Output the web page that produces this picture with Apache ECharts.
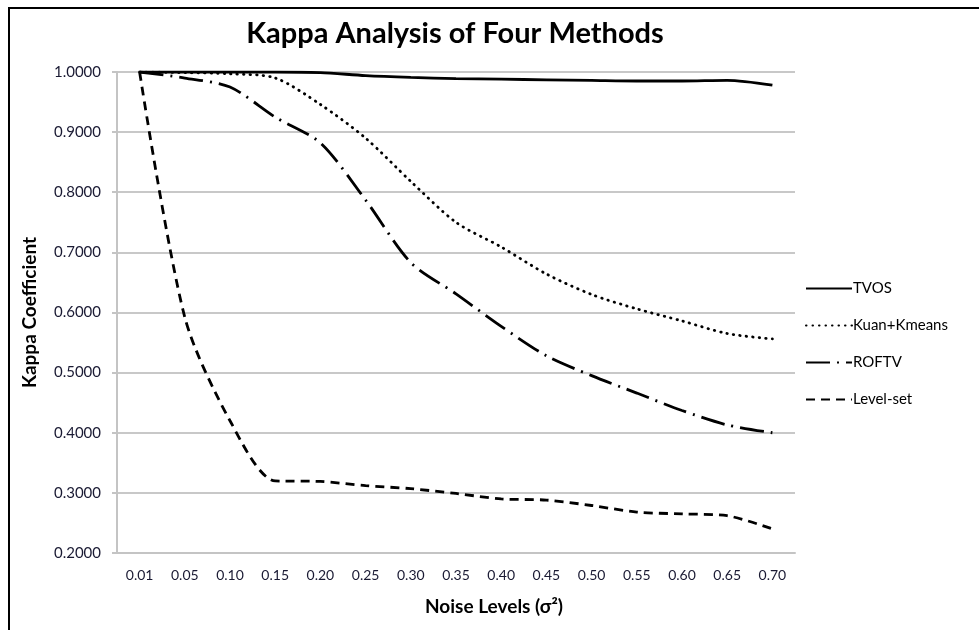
<!DOCTYPE html>
<html>
<head>
<meta charset="utf-8">
<script src="https://cdn.jsdelivr.net/npm/echarts@6/dist/echarts.min.js"></script>
<style>html,body{margin:0;padding:0;background:#fff}#c{width:979px;height:630px}</style>
</head>
<body>
<div id="c"></div>
<script>
const categories = ['0.01','0.05','0.10','0.15','0.20','0.25','0.30','0.35','0.40','0.45','0.50','0.55','0.60','0.65','0.70'];
const tvos = [1.0, 1.0, 1.0, 1.0, 0.999, 0.994, 0.991, 0.989, 0.988, 0.987, 0.986, 0.985, 0.985, 0.986, 0.978];
const kuanKmeans = [1.0, 0.999, 0.997, 0.99, 0.946, 0.89, 0.818, 0.75, 0.709, 0.664, 0.63, 0.606, 0.586, 0.565, 0.556];
const roftv = [1.0, 0.99, 0.975, 0.925, 0.882, 0.787, 0.683, 0.631, 0.577, 0.528, 0.495, 0.466, 0.437, 0.413, 0.40];
const levelSet = [1.0, 0.592, 0.42, 0.32, 0.319, 0.312, 0.307, 0.299, 0.29, 0.288, 0.279, 0.268, 0.265, 0.262, 0.24];
const yTicks = {min: 0.2, max: 1.0, interval: 0.1};

const chart = echarts.init(document.getElementById('c'));
const font = 'Lato, "Open Sans", sans-serif';
function mk(name, data, type, cap) {
  return {
    name, type: 'line', data, smooth: 0.28, symbol: 'none', color: '#000',
    itemStyle: {color: '#000'},
    lineStyle: {color: '#000', width: 2.8, type, cap: cap || 'butt'}
  };
}
chart.setOption({
  animation: false,
  graphic: [{type: 'rect', shape: {x: 9, y: 8, width: 990, height: 640}, style: {fill: 'none', stroke: '#000', lineWidth: 2}}],
  title: {text: 'Kappa Analysis of Four Methods', left: 450, top: 14, textAlign: 'center',
    textStyle: {fontFamily: font, fontWeight: 'bold', fontSize: 29, color: '#000'}},
  grid: {left: 117, right: 184, top: 72, bottom: 77},
  legend: {
    orient: 'vertical', left: 800, top: 276, itemWidth: 46, itemHeight: 10, itemGap: 22,
    itemStyle: {opacity: 0},
    textStyle: {fontFamily: font, fontSize: 15, color: '#000', padding: [0,0,0,-4]},
    data: ['TVOS', 'Kuan+Kmeans', 'ROFTV', 'Level-set']
  },
  xAxis: {
    type: 'category', data: categories, boundaryGap: true,
    name: 'Noise Levels (σ²)', nameLocation: 'middle', nameGap: 44,
    nameTextStyle: {fontFamily: font, fontWeight: 'bold', fontSize: 19, color: '#000', padding: [0,0,0,76]},
    axisLine: {lineStyle: {color: '#c4c4c4', width: 2}},
    axisTick: {show: false},
    axisLabel: {fontFamily: font, fontSize: 14, color: '#1a1a33', margin: 15}
  },
  yAxis: {
    type: 'value', min: yTicks.min, max: yTicks.max, interval: yTicks.interval,
    name: 'Kappa Coefficient', nameLocation: 'middle', nameGap: 78, nameRotate: 90,
    nameTextStyle: {fontFamily: font, fontWeight: 'bold', fontSize: 19, color: '#000'},
    axisLine: {show: true, lineStyle: {color: '#c4c4c4', width: 2}},
    axisTick: {show: true, length: 5, lineStyle: {color: '#c4c4c4', width: 2}},
    splitLine: {lineStyle: {color: '#c8c8c8', width: 2}},
    axisLabel: {fontFamily: font, fontSize: 15, color: '#1a1a33', margin: 16,
      formatter: v => v.toFixed(4)}
  },
  series: [
    mk('TVOS', tvos, 'solid'),
    mk('Kuan+Kmeans', kuanKmeans, [0.5, 6], 'round'),
    mk('ROFTV', roftv, [24, 7, 2, 7]),
    mk('Level-set', levelSet, [9, 6])
  ]
});
</script>
</body>
</html>
